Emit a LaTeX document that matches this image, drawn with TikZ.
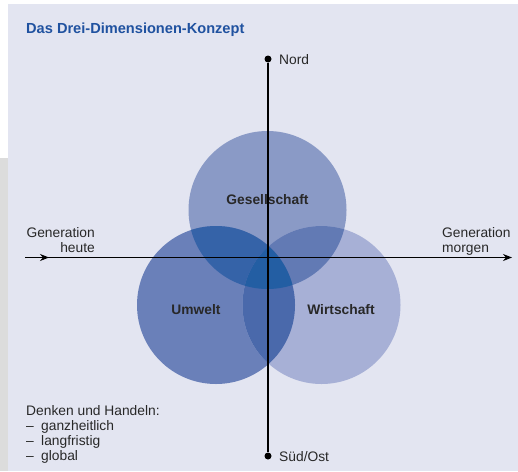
\documentclass[tikz,border=0pt]{standalone}
\usepackage{fontspec}
\setmainfont{Liberation Sans}
\usetikzlibrary{arrows.meta}

\definecolor{panel}{RGB}{227,229,241}
\definecolor{strip}{RGB}{220,220,220}
\definecolor{titleblue}{RGB}{32,82,160}
\definecolor{textgray}{RGB}{40,40,40}
\definecolor{gesfill}{RGB}{138,154,198}
\definecolor{umwfill}{RGB}{106,128,185}
\definecolor{wirfill}{RGB}{167,176,214}
\definecolor{gufill}{RGB}{53,99,168}
\definecolor{gwfill}{RGB}{98,122,180}
\definecolor{uwfill}{RGB}{74,105,171}
\definecolor{guwfill}{RGB}{35,94,163}

\tikzset{
  dot/.style={circle,fill=black,inner sep=0pt,minimum size=7pt},
  txt/.style={font=\fontsize{13.8}{15}\selectfont,text=textgray,inner sep=0pt},
  lbl/.style={font=\fontsize{13.8}{15}\selectfont\bfseries,text=textgray,inner sep=0pt},
  axis/.style={line width=1.1pt,-{Stealth[length=9pt,width=7pt]}},
}

\begin{document}
\begin{tikzpicture}[x=1pt,y=-1pt]
\useasboundingbox (0,0) rectangle (518,471);
\fill[panel] (8,4) rectangle (518,471);
\fill[strip] (0,158) rectangle (8,471);

\node[font=\fontsize{14.6}{16}\selectfont\bfseries,text=titleblue,inner sep=0pt,anchor=base west] (titel) at (26,33) {Das Drei-Dimensionen-Konzept};

% Kreise
\coordinate (gesC) at (267.5,210);
\coordinate (umwC) at (216,305);
\coordinate (wirC) at (321.5,305);
\fill[gesfill] (gesC) circle (79);
\fill[umwfill] (umwC) circle (79);
\fill[wirfill] (wirC) circle (79);
\begin{scope}
\clip (gesC) circle (79);
\fill[gufill] (umwC) circle (79);
\fill[gwfill] (wirC) circle (79);
\end{scope}
\begin{scope}
\clip (umwC) circle (79);
\fill[uwfill] (wirC) circle (79);
\clip (wirC) circle (79);
\fill[guwfill] (gesC) circle (79);
\end{scope}

\node[lbl] (ges) at (267.5,200) {Gesellschaft};
\node[lbl] (umw) at (196,310) {Umwelt};
\node[lbl] (wir) at (341,310) {Wirtschaft};

% Achsen
\node[dot] (nord) at (268,59) {};
\node[dot] (sued) at (268,456) {};
\draw[line width=1.1pt] (nord) -- (sued);
\node[txt,anchor=base west] (nordT) at (279,64) {Nord};
\node[txt,anchor=base west] (suedT) at (279,461) {Süd/Ost};

\coordinate (heute) at (25,257.5);
\coordinate (mitte) at (49,257.5);
\coordinate (morgen) at (512,257.5);
\draw[axis] (heute) -- (morgen);
\draw[axis] (heute) -- (mitte);

\node[txt,anchor=base east] (genH) at (95,237) {Generation};
\node[txt,anchor=base east] (heuteT) at (95,252) {heute};
\node[txt,anchor=base west] (genM) at (442,237) {Generation};
\node[txt,anchor=base west] (morgenT) at (442,252) {morgen};

\node[txt,anchor=base west] (denken) at (26,415) {Denken und Handeln:};
\node[txt,anchor=base west] (p1) at (26,430) {\makebox[15pt][l]{–}ganzheitlich};
\node[txt,anchor=base west] (p2) at (26,445) {\makebox[15pt][l]{–}langfristig};
\node[txt,anchor=base west] (p3) at (26,460) {\makebox[15pt][l]{–}global};
\end{tikzpicture}
\end{document}
